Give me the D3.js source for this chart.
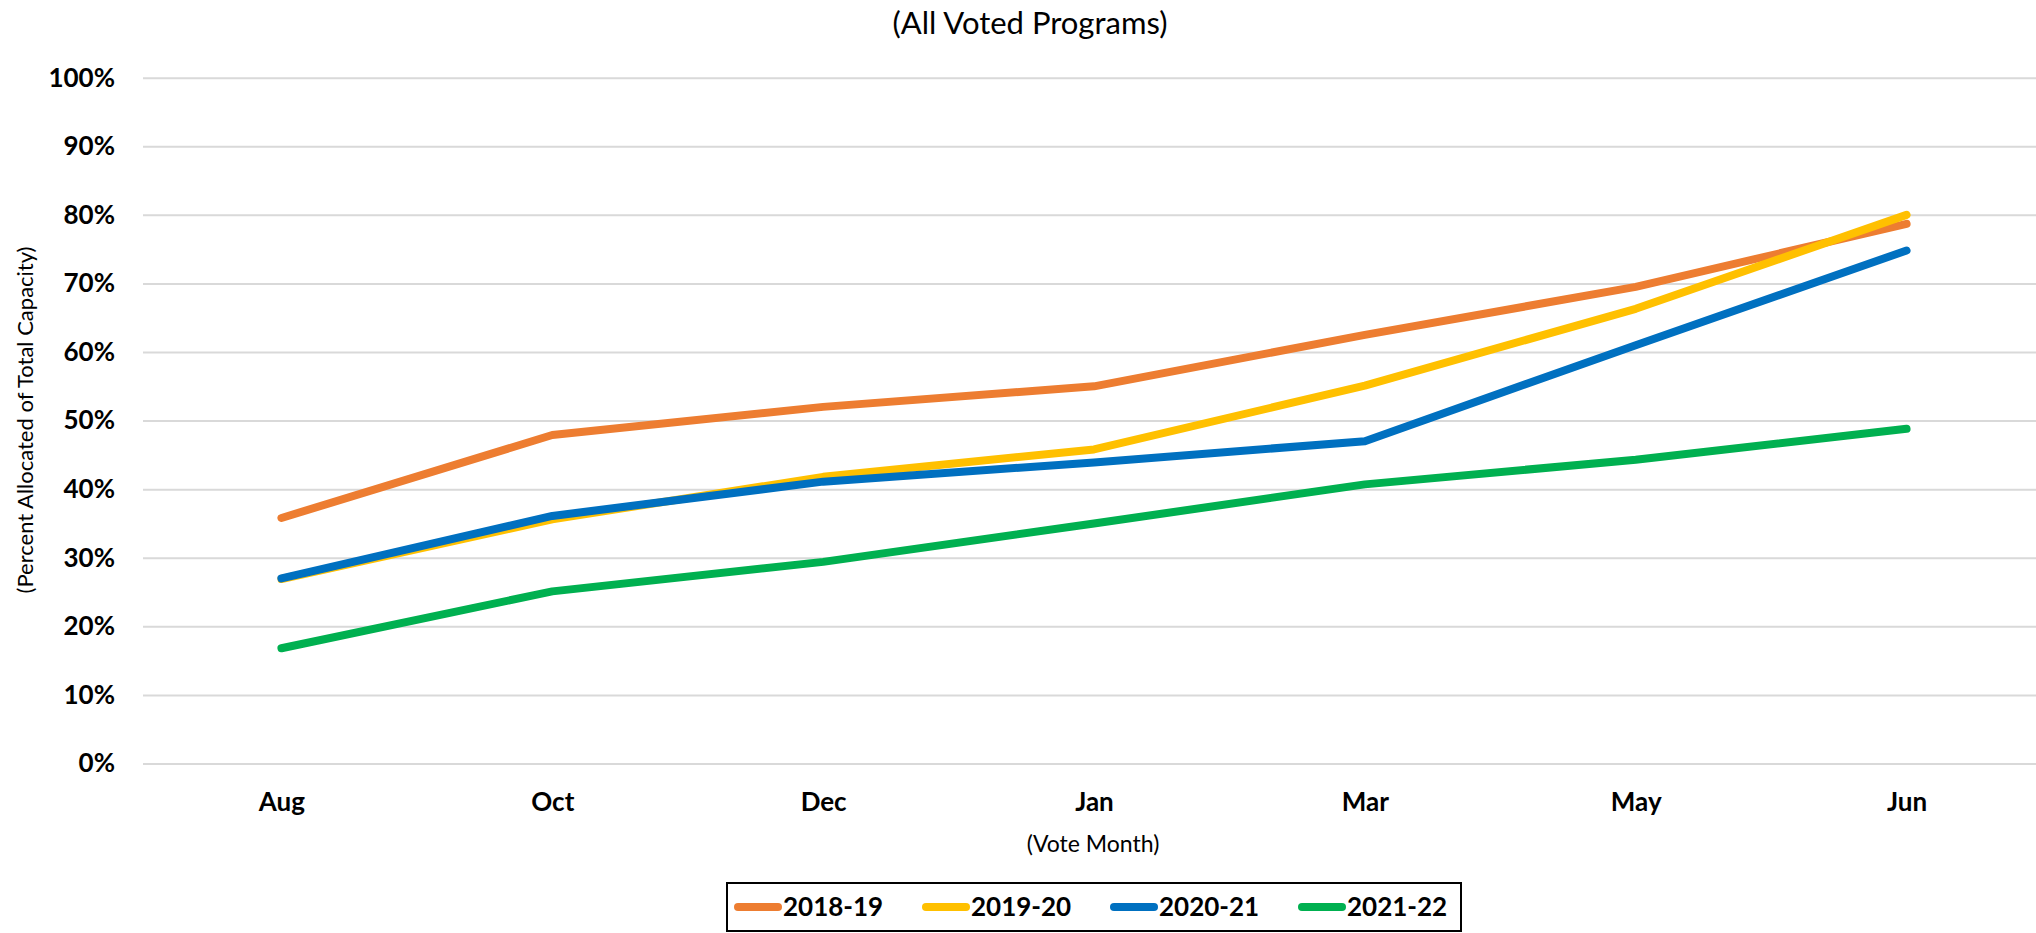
<!DOCTYPE html>
<html>
<head>
<meta charset="utf-8">
<script src="https://cdn.jsdelivr.net/npm/d3@7"></script>
<style>
  body { margin: 0; background: #fff; }
  svg { display: block; font-family: Lato, "Open Sans", sans-serif; }
</style>
</head>
<body>
<div id="chart"></div>
<script>
var months = ["Aug", "Oct", "Dec", "Jan", "Mar", "May", "Jun"];
var seriesNames = ["2018-19", "2019-20", "2020-21", "2021-22"];
var seriesColors = ["#ED7D31", "#FFC000", "#0070C0", "#00B050"];
var yTicks = [0, 0.1, 0.2, 0.3, 0.4, 0.5, 0.6, 0.7, 0.8, 0.9, 1.0];

var values2018 = [0.358, 0.479, 0.520, 0.550, 0.625, 0.695, 0.787];
var values2019 = [0.269, 0.356, 0.418, 0.458, 0.551, 0.663, 0.800];
var values2020 = [0.270, 0.361, 0.411, 0.439, 0.470, 0.610, 0.748];
var values2021 = [0.168, 0.251, 0.294, 0.350, 0.407, 0.443, 0.488];
var allValues = [values2018, values2019, values2020, values2021];

var width = 2036, height = 933;
var fontStack = "Lato, 'Open Sans', sans-serif";

var svg = d3.select("#chart").append("svg")
    .attr("width", width)
    .attr("height", height);

var x = d3.scalePoint().domain(months).range([146, 2042]).padding(0.5);
var y = d3.scaleLinear().domain([0, 1]).range([763.5, 77.7]);

// gridlines + y labels
var yAxis = svg.append("g")
    .attr("transform", "translate(143,0)")
    .call(d3.axisLeft(y).tickValues(yTicks).tickFormat(d3.format(".0%")).tickSize(-1900).tickPadding(28))
    .attr("font-family", fontStack);
yAxis.select(".domain").remove();
yAxis.selectAll(".tick line").attr("stroke", "#D9D9D9").attr("stroke-width", 2);
yAxis.selectAll(".tick text")
    .attr("fill", "#000")
    .style("font-size", "26px")
    .style("font-weight", "bold");

// x labels
var xAxis = svg.append("g")
    .attr("transform", "translate(0,763.5)")
    .call(d3.axisBottom(x).tickSize(0).tickPadding(29))
    .attr("font-family", fontStack);
xAxis.select(".domain").remove();
xAxis.selectAll(".tick text")
    .attr("fill", "#000")
    .style("font-size", "26px")
    .style("font-weight", "bold");

var line = d3.line()
    .x(function(d, i) { return x(months[i]); })
    .y(function(d) { return y(d); });

svg.append("g").selectAll("path")
    .data(allValues)
    .enter().append("path")
    .attr("d", line)
    .attr("fill", "none")
    .attr("stroke", function(d, i) { return seriesColors[i]; })
    .attr("stroke-width", 8)
    .attr("stroke-linecap", "round")
    .attr("stroke-linejoin", "round");

// titles
svg.append("text")
    .attr("x", 1030).attr("y", 34)
    .attr("text-anchor", "middle")
    .style("font-size", "31px")
    .text("(All Voted Programs)");

svg.append("text")
    .attr("x", 1093).attr("y", 852)
    .attr("text-anchor", "middle")
    .style("font-size", "23px")
    .text("(Vote Month)");

svg.append("text")
    .attr("transform", "translate(33,420) rotate(-90)")
    .attr("text-anchor", "middle")
    .style("font-size", "22px")
    .text("(Percent Allocated of Total Capacity)");

// legend
var legend = svg.append("g");
legend.append("rect")
    .attr("x", 727).attr("y", 883)
    .attr("width", 734).attr("height", 48)
    .attr("fill", "#fff")
    .attr("stroke", "#000")
    .attr("stroke-width", 2);

var item = legend.selectAll(".item")
    .data(seriesNames)
    .enter().append("g")
    .attr("class", "item")
    .attr("transform", function(d, i) { return "translate(" + (738 + i * 188) + ",907)"; });
item.append("line")
    .attr("x1", 0).attr("x2", 40)
    .attr("stroke", function(d, i) { return seriesColors[i]; })
    .attr("stroke-width", 8)
    .attr("stroke-linecap", "round");
item.append("text")
    .attr("x", 45).attr("y", 9)
    .style("font-size", "26px")
    .style("font-weight", "bold")
    .text(function(d) { return d; });
</script>
</body>
</html>
